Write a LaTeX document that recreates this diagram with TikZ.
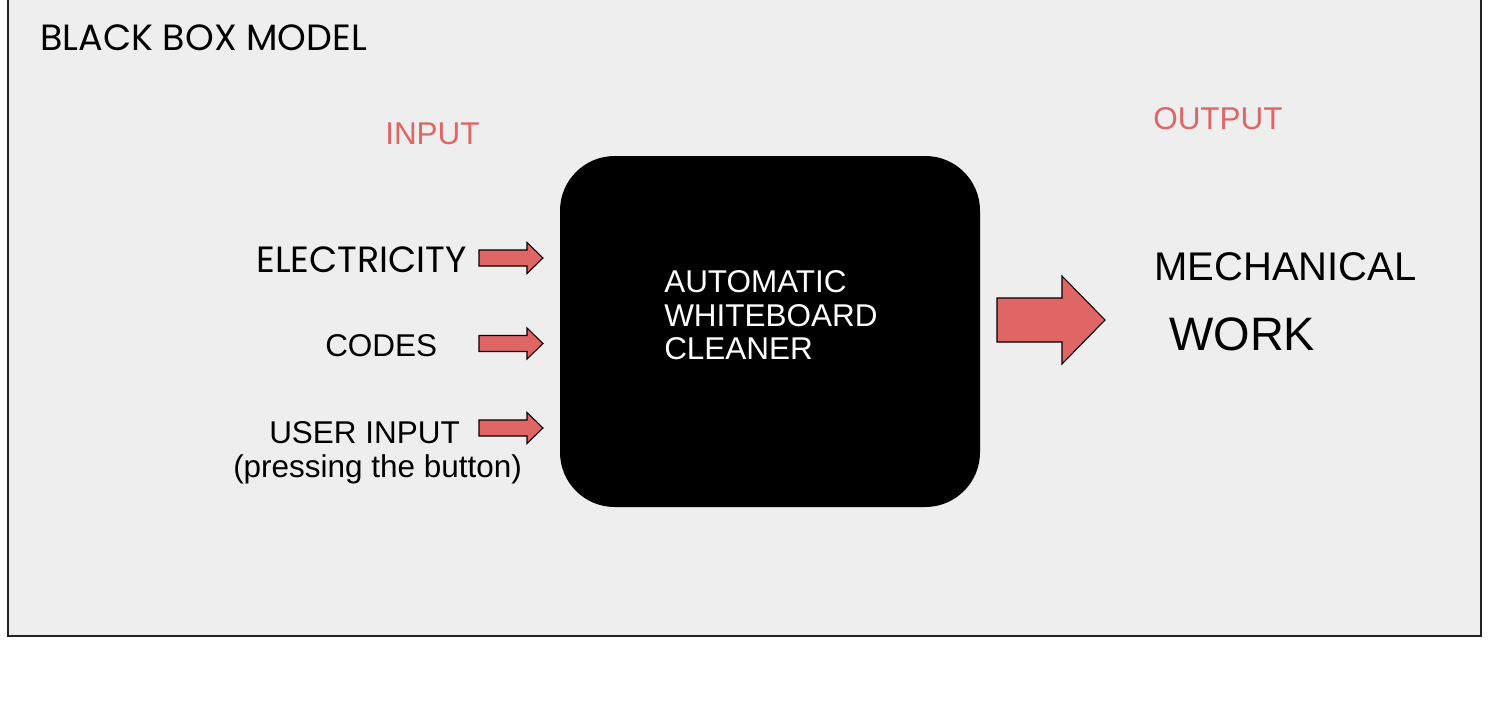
\documentclass[tikz,border=0pt]{standalone}
\usepackage{fontspec}
\setmainfont{Liberation Sans}
\newfontfamily\geo{Poppins}
\definecolor{panelbg}{HTML}{EEEEEE}
\definecolor{panelline}{HTML}{222222}
\definecolor{redA}{HTML}{E06666}
\begin{document}
\begin{tikzpicture}[x=0.75pt,y=-0.75pt,
  lbl/.style={inner sep=0pt,anchor=base west,font=\fontsize{23.6}{28}\selectfont},
  geolbl/.style={inner sep=0pt,anchor=base west,font=\geo\fontsize{27.4}{31}\selectfont},
  redlbl/.style={lbl,text=redA},
  blockarrow/.style={fill=redA,draw=black,line width=0.8pt,line join=miter},
  boxstyle/.style={fill=black,rounded corners=41pt}]
\useasboundingbox (0,0) rectangle (1490,704);
\begin{scope}
\clip (0,0) rectangle (1490,704);
\draw[fill=panelbg,draw=panelline,line width=0.9pt] (8,-5) rectangle (1481,636);
\end{scope}
% black box
\fill[boxstyle] (560,156) rectangle (980,507);
\node[inner sep=0pt] (box) at (770,331.5) {};
% titles
\node[geolbl] (title) at (40,50) {BLACK BOX MODEL};
\node[redlbl] (input) at (385,144) {INPUT};
\node[redlbl] (output) at (1153,129) {OUTPUT};
% inputs
\node[geolbl] (elec) at (256,272) {ELECTRICITY};
\node[lbl] (codes) at (325,356) {CODES};
\node[lbl] (user) at (269,443) {USER INPUT};
\node[lbl] (press) at (233,477) {(pressing the button)};
% center text
\node[lbl,text=white] (l1) at (664,292) {AUTOMATIC};
\node[lbl,text=white] (l2) at (664,326) {WHITEBOARD};
\node[lbl,text=white] (l3) at (664,359) {CLEANER};
% output text
\node[lbl,font=\fontsize{30}{34}\selectfont] (mech) at (1154,280) {MECHANICAL};
\node[lbl,font=\fontsize{35.2}{40}\selectfont] (work) at (1169,350) {WORK};
% small arrows
\foreach \yc in {258,343.5,428}{
  \draw[blockarrow] (479,\yc-8) -- (527,\yc-8) -- (527,\yc-15.5) -- (543,\yc)
    -- (527,\yc+15.5) -- (527,\yc+8) -- (479,\yc+8) -- cycle;
}
% big arrow
\draw[blockarrow] (997,298) -- (1062,298) -- (1062,276) -- (1105,320)
  -- (1062,364) -- (1062,342) -- (997,342) -- cycle;
\end{tikzpicture}
\end{document}
